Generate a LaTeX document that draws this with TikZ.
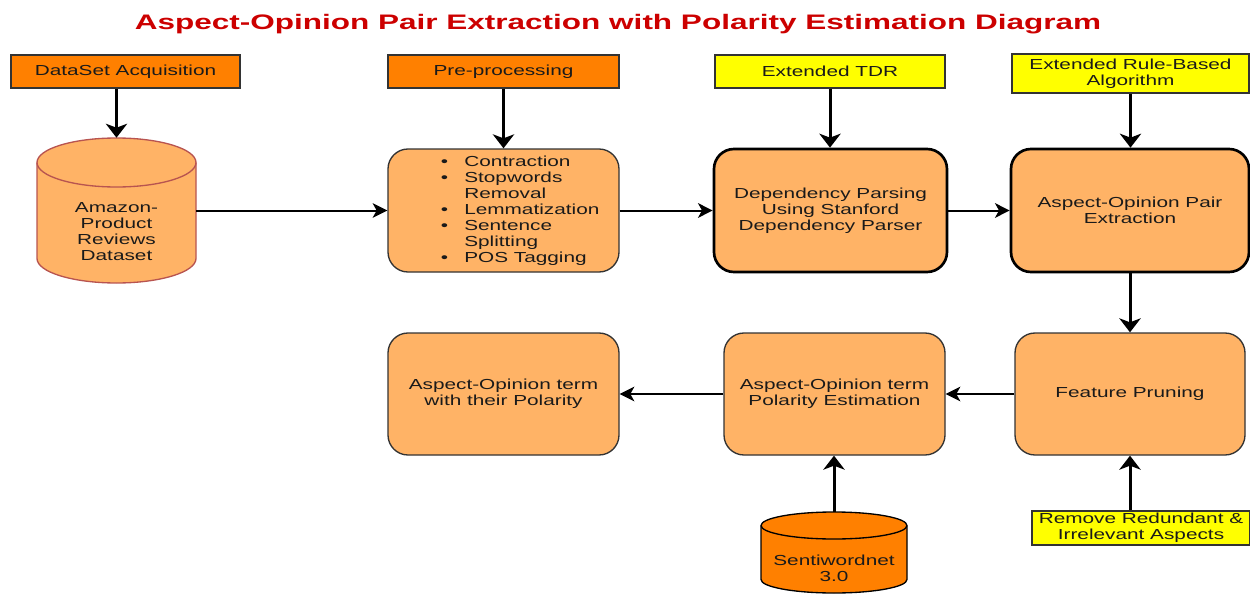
\documentclass[tikz,border=0pt]{standalone}
\usepackage{fontspec}
\setmainfont[FakeStretch=1.43]{Liberation Sans}
\newfontfamily\titlefont[FakeStretch=1.5]{Liberation Sans}
\usetikzlibrary{arrows.meta}
\definecolor{dorange}{HTML}{FF8000}
\definecolor{lorange}{HTML}{FFB366}
\definecolor{yel}{HTML}{FFFF00}
\definecolor{titlered}{HTML}{CC0000}
\definecolor{cylred}{HTML}{B85450}
\definecolor{txt}{HTML}{1A1A1A}
\newcommand{\bodyfont}{\fontsize{10.9pt}{12pt}\selectfont}
\tikzset{
  every node/.style={font=\bodyfont, text=txt},
  topbox/.style={draw=black!80, line width=1pt, inner sep=0pt, align=center, minimum height=24.75pt},
  procbox/.style={draw=black!80, line width=1pt, fill=lorange, rounded corners=15pt, inner sep=0pt, align=center, minimum height=92.25pt},
  boldbox/.style={procbox, draw=black, line width=2pt},
  varrow/.style={line width=2.25pt, -{Stealth[length=10.5pt,width=16pt,inset=3pt]}},
  harrow/.style={line width=1.5pt, -{Stealth[length=11pt,width=11pt,inset=3pt]}},
  bul/.style={inner sep=0pt, align=left}
}
\begin{document}
\begin{tikzpicture}[x=0.75pt,y=0.75pt]
\useasboundingbox (0,0) rectangle (1250,-596);

% title
\node[font=\titlefont\bfseries\fontsize{15.75pt}{18pt}\selectfont, text=titlered, anchor=base] (title) at (618,-29) {Aspect-Opinion Pair Extraction with Polarity Estimation Diagram};

% top label boxes
\node[topbox, fill=dorange, minimum width=171.75pt] (acq) at (125.5,-71.5) {DataSet Acquisition};
\node[topbox, fill=dorange, minimum width=173.25pt] (pre) at (503.5,-71.5) {Pre-processing};
\node[topbox, fill=yel, minimum width=172.5pt] (tdr) at (830,-71.5) {Extended TDR};
\node[topbox, fill=yel, minimum width=177.75pt, minimum height=29.25pt] (rule) at (1130.5,-73.5) {Extended Rule-Based\\Algorithm};

% cylinder 1
\path[fill=lorange, draw=cylred, line width=1pt] (37,-162.5) -- (37,-258.5)
  arc[start angle=180,end angle=360,x radius=79.5,y radius=24.5] -- (196,-162.5)
  arc[start angle=0,end angle=180,x radius=79.5,y radius=24.5] -- cycle;
\draw[draw=cylred, line width=1pt] (37,-162.5) arc[start angle=180,end angle=360,x radius=79.5,y radius=24.5];
\node[inner sep=0pt, minimum width=119.25pt, minimum height=108.75pt] (cyl1) at (116.5,-210.5) {};
\node[align=center, inner sep=0pt] (cyl1t) at (116.5,-232) {Amazon-\\Product\\Reviews\\Dataset};

% process boxes row 1
\node[procbox, minimum width=173.25pt] (prebox) at (503.5,-210.5) {};
\node[bul, anchor=west] (prelist) at (464,-210.5) {%
\llap{\textbullet\hspace{12pt}}Contraction\\
\llap{\textbullet\hspace{12pt}}Stopwords\\
Removal\\
\llap{\textbullet\hspace{12pt}}Lemmatization\\
\llap{\textbullet\hspace{12pt}}Sentence\\
Splitting\\
\llap{\textbullet\hspace{12pt}}POS Tagging};
\node[boldbox, minimum width=174.75pt] (dep) at (830.5,-210.5) {Dependency Parsing\\Using Stanford\\Dependency Parser};
\node[boldbox, minimum width=178.5pt] (pair) at (1130,-210.5) {Aspect-Opinion Pair\\Extraction};

% row 2
\node[procbox, minimum width=172.5pt, minimum height=91.5pt] (fp) at (1130,-394) {Feature Pruning};
\node[procbox, minimum width=165.75pt, minimum height=91.5pt] (pe) at (834.5,-394) {Aspect-Opinion term\\Polarity Estimation};
\node[procbox, minimum width=173.25pt, minimum height=91.5pt] (wop) at (503.5,-394) {Aspect-Opinion term\\with their Polarity};

% remove redundant
\node[topbox, fill=yel, minimum width=163.5pt, minimum height=25.5pt] (rr) at (1141,-528) {Remove Redundant \&\\Irrelevant Aspects};

% sentiwordnet cylinder
\path[fill=dorange, draw=black, line width=1pt] (761,-525.5) -- (761,-579.5)
  arc[start angle=180,end angle=360,x radius=73,y radius=13.5] -- (907,-525.5)
  arc[start angle=0,end angle=180,x radius=73,y radius=13.5] -- cycle;
\draw[line width=1pt] (761,-525.5) arc[start angle=180,end angle=360,x radius=73,y radius=13.5];
\node[inner sep=0pt, minimum width=109.5pt, minimum height=60.75pt] (senti) at (834,-552.5) {};
\node[align=center, inner sep=0pt] (sentit) at (834,-568.5) {Sentiwordnet\\3.0};

% vertical arrows
\draw[varrow] (acq.south -| cyl1.north) -- (cyl1.north);
\draw[varrow] (pre.south) -- (prebox.north);
\draw[varrow] (tdr.south) -- (tdr.south |- dep.north);
\draw[varrow] (rule.south) -- (rule.south |- pair.north);
\draw[varrow] (pair.south) -- (fp.north);
\draw[varrow] (rr.north -| fp.south) -- (fp.south);
\draw[varrow] (senti.north) -- (senti.north |- pe.south);

% horizontal arrows
\draw[harrow] (cyl1.east) -- (prebox.west);
\draw[harrow] (prebox.east) -- (dep.west);
\draw[harrow] (dep.east) -- (pair.west);
\draw[harrow] (fp.west) -- (pe.east);
\draw[harrow] (pe.west) -- (wop.east);
\end{tikzpicture}
\end{document}
